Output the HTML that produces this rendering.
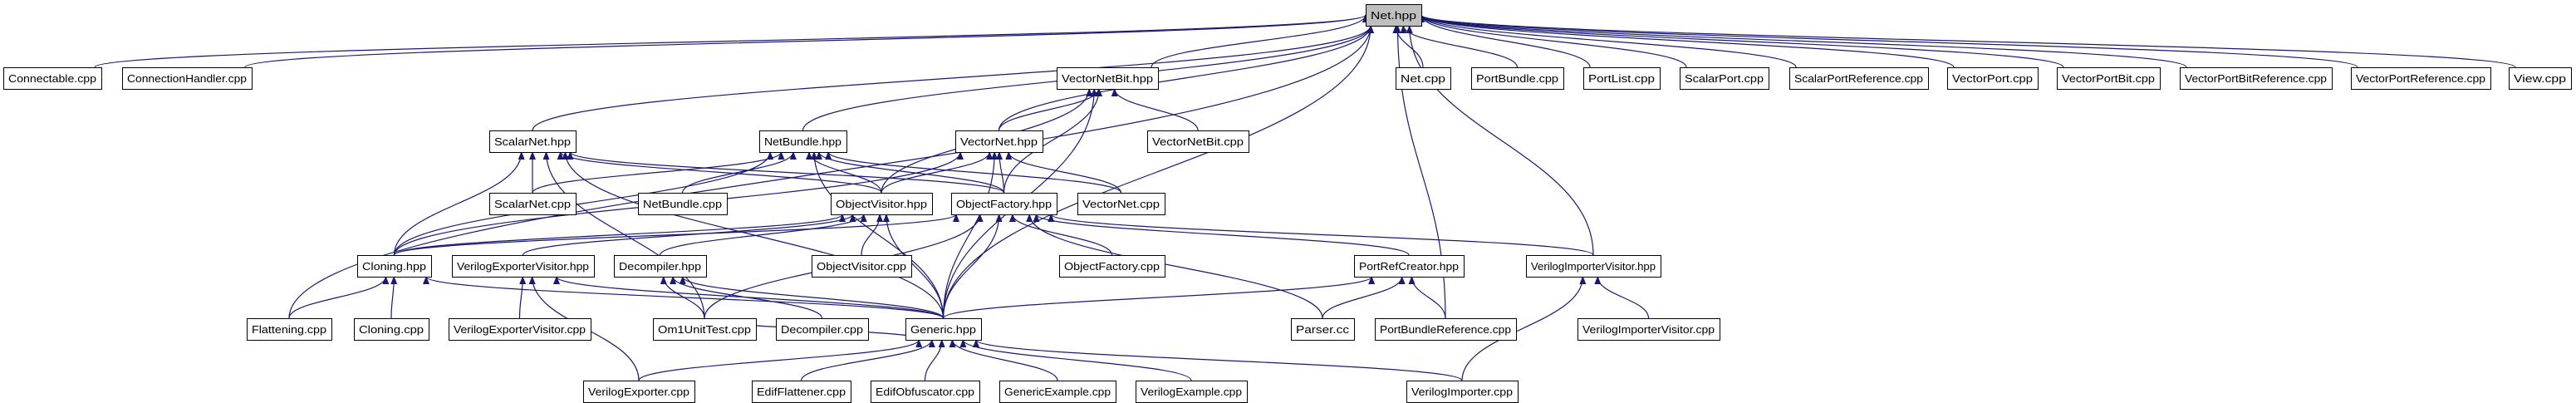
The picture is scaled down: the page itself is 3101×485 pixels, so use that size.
<!DOCTYPE html>
<html><head><meta charset="utf-8"><style>
html,body{margin:0;padding:0;background:#fff;}
svg{display:block;}
</style></head><body>
<svg id="g" width="3101" height="485" viewBox="0 0 3101 485" xmlns="http://www.w3.org/2000/svg">
<defs><marker id="ah" markerWidth="10" markerHeight="8" refX="9" refY="4" orient="auto" markerUnits="userSpaceOnUse"><path d="M0,0 L10,4 L0,8 z" fill="#191970"/></marker></defs>
<g id="edges"></g>
<g id="nodes"></g>
</svg>
<script>
const nodeNames = ["Net.hpp","Connectable.cpp","ConnectionHandler.cpp","VectorNetBit.hpp","Net.cpp","PortBundle.cpp","PortList.cpp","ScalarPort.cpp","ScalarPortReference.cpp","VectorPort.cpp","VectorPortBit.cpp","VectorPortBitReference.cpp","VectorPortReference.cpp","View.cpp",
"ScalarNet.hpp","NetBundle.hpp","VectorNet.hpp","VectorNetBit.cpp",
"ScalarNet.cpp","NetBundle.cpp","ObjectVisitor.hpp","ObjectFactory.hpp","VectorNet.cpp",
"Cloning.hpp","VerilogExporterVisitor.hpp","Decompiler.hpp","ObjectVisitor.cpp","ObjectFactory.cpp","PortRefCreator.hpp","VerilogImporterVisitor.hpp",
"Flattening.cpp","Cloning.cpp","VerilogExporterVisitor.cpp","Om1UnitTest.cpp","Decompiler.cpp","Generic.hpp","Parser.cc","PortBundleReference.cpp","VerilogImporterVisitor.cpp",
"VerilogExporter.cpp","EdifFlattener.cpp","EdifObfuscator.cpp","GenericExample.cpp","VerilogExample.cpp","VerilogImporter.cpp"];
const nodeRow = [0,1,1,1,1,1,1,1,1,1,1,1,1,1, 2,2,2,2, 3,3,3,3,3, 4,4,4,4,4,4,4, 5,5,5,5,5,5,5,5,5, 6,6,6,6,6,6];
const nodeX0 = [1644,4,147,1272,1680,1771,1906,2022,2154,2344,2476,2624,2830,3020, 589,914,1150,1381, 589,768,1000,1145,1297, 430,544,739,977,1275,1630,1837, 297,426,540,786,934,1090,1554,1655,1899, 702,905,1048,1203,1367,1693];
const nodeX1 = [1711,122,303,1394,1746,1882,1998,2129,2321,2453,2600,2807,2998,3095, 693,1019,1255,1503, 693,875,1122,1272,1402, 519,715,850,1097,1402,1762,1999, 399,516,711,910,1045,1181,1630,1825,2070, 836,1024,1179,1343,1501,1827];
const rowTop = [5,81,157,232,307,383,458];
// edges: [child, parent]
const edgeList = [
["Connectable.cpp","Net.hpp"],["ConnectionHandler.cpp","Net.hpp"],["VectorNetBit.hpp","Net.hpp"],["Net.cpp","Net.hpp"],["PortBundle.cpp","Net.hpp"],["PortList.cpp","Net.hpp"],["ScalarPort.cpp","Net.hpp"],["ScalarPortReference.cpp","Net.hpp"],["VectorPort.cpp","Net.hpp"],["VectorPortBit.cpp","Net.hpp"],["VectorPortBitReference.cpp","Net.hpp"],["VectorPortReference.cpp","Net.hpp"],["View.cpp","Net.hpp"],
["ScalarNet.hpp","Net.hpp"],["NetBundle.hpp","Net.hpp"],["VectorNet.hpp","Net.hpp"],["Flattening.cpp","Net.hpp"],["Generic.hpp","Net.hpp"],["PortBundleReference.cpp","Net.hpp"],["VerilogImporterVisitor.hpp","Net.hpp"],
["VectorNet.hpp","VectorNetBit.hpp"],["VectorNetBit.cpp","VectorNetBit.hpp"],["ObjectVisitor.hpp","VectorNetBit.hpp"],["ObjectFactory.hpp","VectorNetBit.hpp"],["Generic.hpp","VectorNetBit.hpp"],
["ScalarNet.cpp","ScalarNet.hpp"],["Cloning.hpp","ScalarNet.hpp"],["Generic.hpp","ScalarNet.hpp"],["Om1UnitTest.cpp","ScalarNet.hpp"],["ObjectVisitor.hpp","ScalarNet.hpp"],["ObjectFactory.hpp","ScalarNet.hpp"],
["ScalarNet.cpp","NetBundle.hpp"],["NetBundle.cpp","NetBundle.hpp"],["Cloning.hpp","NetBundle.hpp"],["Generic.hpp","NetBundle.hpp"],["ObjectVisitor.hpp","NetBundle.hpp"],["ObjectFactory.hpp","NetBundle.hpp"],["VectorNet.cpp","NetBundle.hpp"],
["VectorNet.cpp","VectorNet.hpp"],["ObjectVisitor.hpp","VectorNet.hpp"],["ObjectFactory.hpp","VectorNet.hpp"],["Cloning.hpp","VectorNet.hpp"],["Generic.hpp","VectorNet.hpp"],
["Cloning.hpp","ObjectVisitor.hpp"],["VerilogExporterVisitor.hpp","ObjectVisitor.hpp"],["Decompiler.hpp","ObjectVisitor.hpp"],["ObjectVisitor.cpp","ObjectVisitor.hpp"],["Generic.hpp","ObjectVisitor.hpp"],
["Cloning.hpp","ObjectFactory.hpp"],["ObjectFactory.cpp","ObjectFactory.hpp"],["Generic.hpp","ObjectFactory.hpp"],["Om1UnitTest.cpp","ObjectFactory.hpp"],["PortRefCreator.hpp","ObjectFactory.hpp"],["VerilogImporterVisitor.hpp","ObjectFactory.hpp"],["Parser.cc","ObjectFactory.hpp"],
["Flattening.cpp","Cloning.hpp"],["Cloning.cpp","Cloning.hpp"],["Generic.hpp","Cloning.hpp"],
["VerilogExporterVisitor.cpp","VerilogExporterVisitor.hpp"],["VerilogExporter.cpp","VerilogExporterVisitor.hpp"],["Generic.hpp","VerilogExporterVisitor.hpp"],
["Om1UnitTest.cpp","Decompiler.hpp"],["Decompiler.cpp","Decompiler.hpp"],["Generic.hpp","Decompiler.hpp"],
["Generic.hpp","PortRefCreator.hpp"],["Parser.cc","PortRefCreator.hpp"],["PortBundleReference.cpp","PortRefCreator.hpp"],
["VerilogImporter.cpp","VerilogImporterVisitor.hpp"],["VerilogImporterVisitor.cpp","VerilogImporterVisitor.hpp"],
["VerilogExporter.cpp","Generic.hpp"],["EdifFlattener.cpp","Generic.hpp"],["EdifObfuscator.cpp","Generic.hpp"],["GenericExample.cpp","Generic.hpp"],["VerilogExample.cpp","Generic.hpp"],["VerilogImporter.cpp","Generic.hpp"],["Om1UnitTest.cpp","Generic.hpp"]
];
const NS="http://www.w3.org/2000/svg";
const H=26;
function box(name){const i=nodeNames.indexOf(name);return {x0:nodeX0[i],x1:nodeX1[i],y0:rowTop[nodeRow[i]],y1:rowTop[nodeRow[i]]+H,r:nodeRow[i]};}
const eg=document.getElementById('edges');
edgeList.forEach(function(e){
  const c=box(e[0]), p=box(e[1]);
  const cx=(c.x0+c.x1)/2, px=(p.x0+p.x1)/2;
  let sx=cx, sy=c.y0, tx, ty;
  if(p.r===0 && c.r===1 && (c.x1<p.x0-100 || c.x0>p.x1+100)){
    tx = c.x1<p.x0 ? p.x0 : p.x1; ty=(p.y0+p.y1)/2;
    sx = c.x1<p.x0 ? c.x1-8 : c.x0+8;
  } else {
    tx=Math.max(p.x0+6,Math.min(p.x1-6,px+(cx-px)*0.08)); ty=p.y1;
  }
  const dy=(sy-ty)*0.45;
  const path=document.createElementNS(NS,'path');
  path.setAttribute('d','M'+sx+','+sy+' C'+sx+','+(sy-dy)+' '+tx+','+(ty+dy)+' '+tx+','+ty);
  path.setAttribute('fill','none');path.setAttribute('stroke','#191970');path.setAttribute('stroke-width','1.2');
  path.setAttribute('marker-end','url(#ah)');
  
  
  eg.appendChild(path);
});
const ng=document.getElementById('nodes');
nodeNames.forEach(function(n,i){
  const b=box(n);
  const g=document.createElementNS(NS,'g');
  
  
  const r=document.createElementNS(NS,'rect');
  r.setAttribute('x',b.x0+0.5);r.setAttribute('y',b.y0+0.5);r.setAttribute('width',b.x1-b.x0);r.setAttribute('height',H);
  r.setAttribute('fill',i===0?'#bfbfbf':'#fff');r.setAttribute('stroke','#000');r.setAttribute('stroke-width','1');
  
  
  const t=document.createElementNS(NS,'text');
  t.setAttribute('x',(b.x0+b.x1)/2);t.setAttribute('y',b.y0+18);t.setAttribute('text-anchor','middle');
  t.setAttribute('font-family','"Liberation Sans", sans-serif');t.setAttribute('font-size','13');
  t.setAttribute('textLength',Math.max(10,b.x1-b.x0-12));t.setAttribute('lengthAdjust','spacingAndGlyphs');
  
  
  t.textContent=n;
  g.appendChild(r);g.appendChild(t);ng.appendChild(g);
});
</script>
</body></html>
